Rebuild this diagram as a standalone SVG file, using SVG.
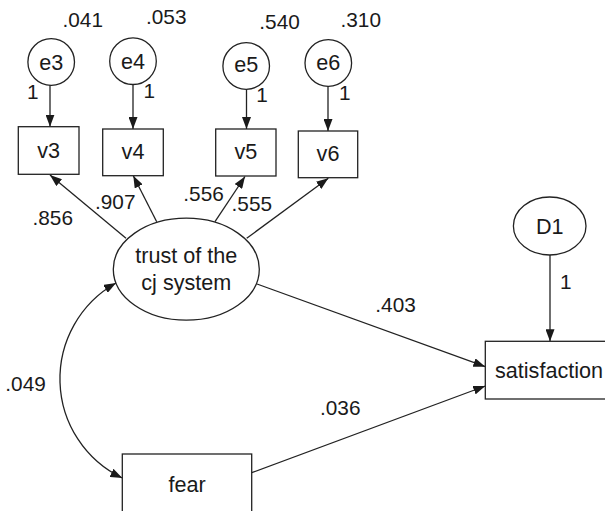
<svg xmlns="http://www.w3.org/2000/svg" width="605" height="511" viewBox="0 0 605 511">
<defs>
<style>
.shape{fill:#fff;stroke:#222;stroke-width:1.3}
.edge{fill:none;stroke:#222;stroke-width:1.3}
.nt{font-family:"Liberation Sans",Arial,sans-serif;font-size:21.6px;fill:#1a1a1a;text-anchor:middle}
.lb{font-family:"Liberation Sans",Arial,sans-serif;font-size:20.8px;fill:#1a1a1a}
</style>
<marker id="ah" viewBox="0 0 12 9" refX="12" refY="4.5" markerWidth="12" markerHeight="9" markerUnits="userSpaceOnUse" orient="auto-start-reverse">
<path d="M0,0 L12,4.5 L0,9 z" fill="#1a1a1a"/>
</marker>
</defs>
<rect width="605" height="511" fill="#fff"/>
<g id="connectors">
<path class="edge" d="M50,85 L50,126.7" marker-end="url(#ah)"/>
<path class="edge" d="M133,84 L133,129" marker-end="url(#ah)"/>
<path class="edge" d="M246.5,89.3 L246.5,129" marker-end="url(#ah)"/>
<path class="edge" d="M328,86 L328,131" marker-end="url(#ah)"/>
<path class="edge" d="M126,238.3 L50,175" marker-end="url(#ah)"/>
<path class="edge" d="M156.7,221.7 L133.3,175.7" marker-end="url(#ah)"/>
<path class="edge" d="M215,221.7 L245,176.5" marker-end="url(#ah)"/>
<path class="edge" d="M246.7,238.3 L328.3,178.2" marker-end="url(#ah)"/>
<path class="edge" d="M257,284 L485.3,366.7" marker-end="url(#ah)"/>
<path class="edge" d="M251.7,472.7 L485.3,386" marker-end="url(#ah)"/>
<path class="edge" d="M550,255 L550,341.3" marker-end="url(#ah)"/>
<path class="edge" d="M116,283 A110,110 0 0 0 122.3,478" marker-start="url(#ah)" marker-end="url(#ah)"/>
</g>
<g id="e3"><circle class="shape" cx="51.2" cy="62" r="23.3"/><text class="nt" x="51.2" y="70">e3</text></g>
<g id="e4"><circle class="shape" cx="133" cy="61.2" r="23.3"/><text class="nt" x="133" y="68.5">e4</text></g>
<g id="e5"><circle class="shape" cx="246.2" cy="66" r="23.3"/><text class="nt" x="246.2" y="71.8">e5</text></g>
<g id="e6"><circle class="shape" cx="328.3" cy="63" r="23.3"/><text class="nt" x="328.3" y="69.5">e6</text></g>
<g id="v3"><rect class="shape" x="18.3" y="126.7" width="60.7" height="47.6"/><text class="nt" x="48.7" y="158.3">v3</text></g>
<g id="v4"><rect class="shape" x="102.7" y="129" width="60.6" height="46.7"/><text class="nt" x="133" y="159">v4</text></g>
<g id="v5"><rect class="shape" x="215.7" y="129" width="60.3" height="47"/><text class="nt" x="245.8" y="159.3">v5</text></g>
<g id="v6"><rect class="shape" x="298.3" y="131" width="59.4" height="46.7"/><text class="nt" x="328" y="161">v6</text></g>
<g id="trust"><ellipse class="shape" cx="186.3" cy="269.2" rx="73" ry="51"/><text class="nt" x="186.3" y="263">trust of the</text><text class="nt" x="186.3" y="290">cj system</text></g>
<g id="fear"><rect class="shape" x="122.3" y="454" width="129.4" height="70"/><text class="nt" x="187" y="492">fear</text></g>
<g id="D1"><ellipse class="shape" cx="549.7" cy="226" rx="36.3" ry="29"/><text class="nt" x="549.7" y="234">D1</text></g>
<g id="satisfaction"><rect class="shape" x="485.3" y="341.3" width="130" height="57.7"/><text class="nt" x="495" y="378.3" style="text-anchor:start">satisfaction</text></g>
<g id="labels">
<text class="lb" x="62.5" y="26.7">.041</text>
<text class="lb" x="146" y="24">.053</text>
<text class="lb" x="259.3" y="29.3">.540</text>
<text class="lb" x="340.5" y="26.7">.310</text>
<text class="lb" x="27" y="99.3">1</text>
<text class="lb" x="143.5" y="98.3">1</text>
<text class="lb" x="256.2" y="101.7">1</text>
<text class="lb" x="339" y="100">1</text>
<text class="lb" x="32.5" y="225">.856</text>
<text class="lb" x="95" y="209">.907</text>
<text class="lb" x="183.3" y="200.7">.556</text>
<text class="lb" x="231.6" y="210.7">.555</text>
<text class="lb" x="375.3" y="311.7">.403</text>
<text class="lb" x="320" y="415">.036</text>
<text class="lb" x="5.3" y="391">.049</text>
<text class="lb" x="560" y="289.3">1</text>
</g>
</svg>
